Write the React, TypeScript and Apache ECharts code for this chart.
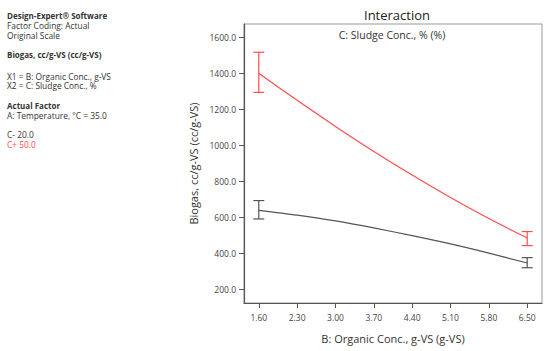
import React, { useEffect, useRef } from "react";
import * as echarts from "echarts";

const xTicks = [1.6, 2.3, 3.0, 3.7, 4.4, 5.1, 5.8, 6.5];
const yTicks = [200, 400, 600, 800, 1000, 1200, 1400, 1600];
const highValues = [1400, 1250, 1105, 966, 835, 710, 593, 485]; // C+ 50.0
const lowValues = [639, 612, 580, 541, 498, 452, 401, 346]; // C- 20.0
const errX = [1.6, 6.5];
const highErrLow = [1294, 443];
const highErrHigh = [1517, 521];
const lowErrLow = [591, 320];
const lowErrHigh = [693, 376];

const RED = "#ff4d4d";
const GREY = "#555555";
const FONT = "'Open Sans', 'Noto Sans', sans-serif";

function errorSeries(name: string, lows: number[], highs: number[], color: string) {
  const data = errX.map((x, i) => [x, lows[i], highs[i]]);
  return {
    name,
    type: "custom",
    data,
    z: 5,
    renderItem: (params: any, api: any) => {
      const x = api.value(0);
      const lo = api.coord([x, api.value(1)]);
      const hi = api.coord([x, api.value(2)]);
      const w = 5.5;
      const style = { stroke: color, lineWidth: 1.2 };
      return {
        type: "group",
        children: [
          { type: "line", shape: { x1: lo[0], y1: lo[1], x2: hi[0], y2: hi[1] }, style },
          { type: "line", shape: { x1: lo[0] - w, y1: lo[1], x2: lo[0] + w, y2: lo[1] }, style },
          { type: "line", shape: { x1: hi[0] - w, y1: hi[1], x2: hi[0] + w, y2: hi[1] }, style },
        ],
      };
    },
  };
}

export default function App() {
  const ref = useRef<HTMLDivElement>(null);
  useEffect(() => {
    document.body.style.margin = "0";
    if (!ref.current) return;
    const chart = echarts.init(ref.current, null, { renderer: "svg" });
    const leftText = (text: string, cy: number, opts: any = {}) => ({
      type: "text",
      x: 7,
      y: cy,
      style: {
        text,
        fill: opts.fill || "#333",
        font: opts.bold ? `bold 8px ${FONT}` : `8.4px ${FONT}`,
        verticalAlign: "middle",
        align: "left",
      },
    });
    chart.setOption({
      animation: false,
      backgroundColor: "#fff",
      title: {
        text: "Interaction",
        left: 392,
        top: 3,
        textAlign: "center",
        textStyle: { fontFamily: FONT, fontSize: 13, fontWeight: "normal", color: "#222" },
      },
      grid: {
        left: 244,
        top: 24,
        right: 8,
        bottom: 48,
        show: true,
        borderColor: "#999",
        borderWidth: 1,
        backgroundColor: "#fff",
      },
      graphic: [
        leftText("Design-Expert® Software", 15, { bold: true }),
        leftText("Factor Coding: Actual", 25),
        leftText("Original Scale", 35),
        leftText("Biogas, cc/g-VS (cc/g-VS)", 54, { bold: true }),
        leftText("X1 = B: Organic Conc., g-VS", 76),
        leftText("X2 = C: Sludge Conc., %", 85.5),
        leftText("Actual Factor", 105, { bold: true }),
        leftText("A: Temperature, °C = 35.0", 115),
        leftText("C- 20.0", 134),
        leftText("C+ 50.0", 144, { fill: RED }),
        {
          type: "text",
          x: 392,
          y: 35,
          style: {
            text: "C: Sludge Conc., % (%)",
            fill: "#333",
            font: `10.5px ${FONT}`,
            align: "center",
            verticalAlign: "middle",
          },
        },
      ],
      xAxis: {
        type: "value",
        min: 1.33,
        max: 6.77,
        name: "B: Organic Conc., g-VS (g-VS)",
        nameLocation: "middle",
        nameGap: 30,
        nameTextStyle: { fontFamily: FONT, fontSize: 11, color: "#333" },
        axisLine: { show: true, lineStyle: { color: "#555", width: 1.2 } },
        axisTick: { show: true, length: 5, customValues: xTicks, lineStyle: { color: "#555" } },
        axisLabel: {
          customValues: xTicks,
          formatter: (v: number) => v.toFixed(2),
          fontFamily: FONT,
          fontSize: 8.5,
          color: "#444",
          margin: 10,
        },
        splitLine: { show: false },
      },
      yAxis: {
        type: "value",
        min: 124,
        max: 1674,
        name: "Biogas, cc/g-VS (cc/g-VS)",
        nameLocation: "middle",
        nameGap: 43,
        nameRotate: 90,
        nameTextStyle: { fontFamily: FONT, fontSize: 11, color: "#333" },
        axisLine: { show: true, lineStyle: { color: "#555", width: 1.2 } },
        axisTick: { show: true, length: 5, customValues: yTicks, lineStyle: { color: "#555" } },
        axisLabel: {
          customValues: yTicks,
          formatter: (v: number) => v.toFixed(1),
          fontFamily: FONT,
          fontSize: 8.5,
          color: "#444",
          margin: 8,
        },
        splitLine: { show: false },
      },
      series: [
        {
          name: "C+ 50.0",
          type: "line",
          data: xTicks.map((x, i) => [x, highValues[i]]),
          smooth: 0.3,
          showSymbol: false,
          symbol: "none",
          lineStyle: { color: RED, width: 1.2 },
        },
        {
          name: "C- 20.0",
          type: "line",
          data: xTicks.map((x, i) => [x, lowValues[i]]),
          smooth: 0.3,
          showSymbol: false,
          symbol: "none",
          lineStyle: { color: GREY, width: 1.2 },
        },
        errorSeries("C+ err", highErrLow, highErrHigh, RED),
        errorSeries("C- err", lowErrLow, lowErrHigh, GREY),
      ],
    });
    return () => chart.dispose();
  }, []);
  return <div ref={ref} style={{ width: 550, height: 351 }} />;
}
